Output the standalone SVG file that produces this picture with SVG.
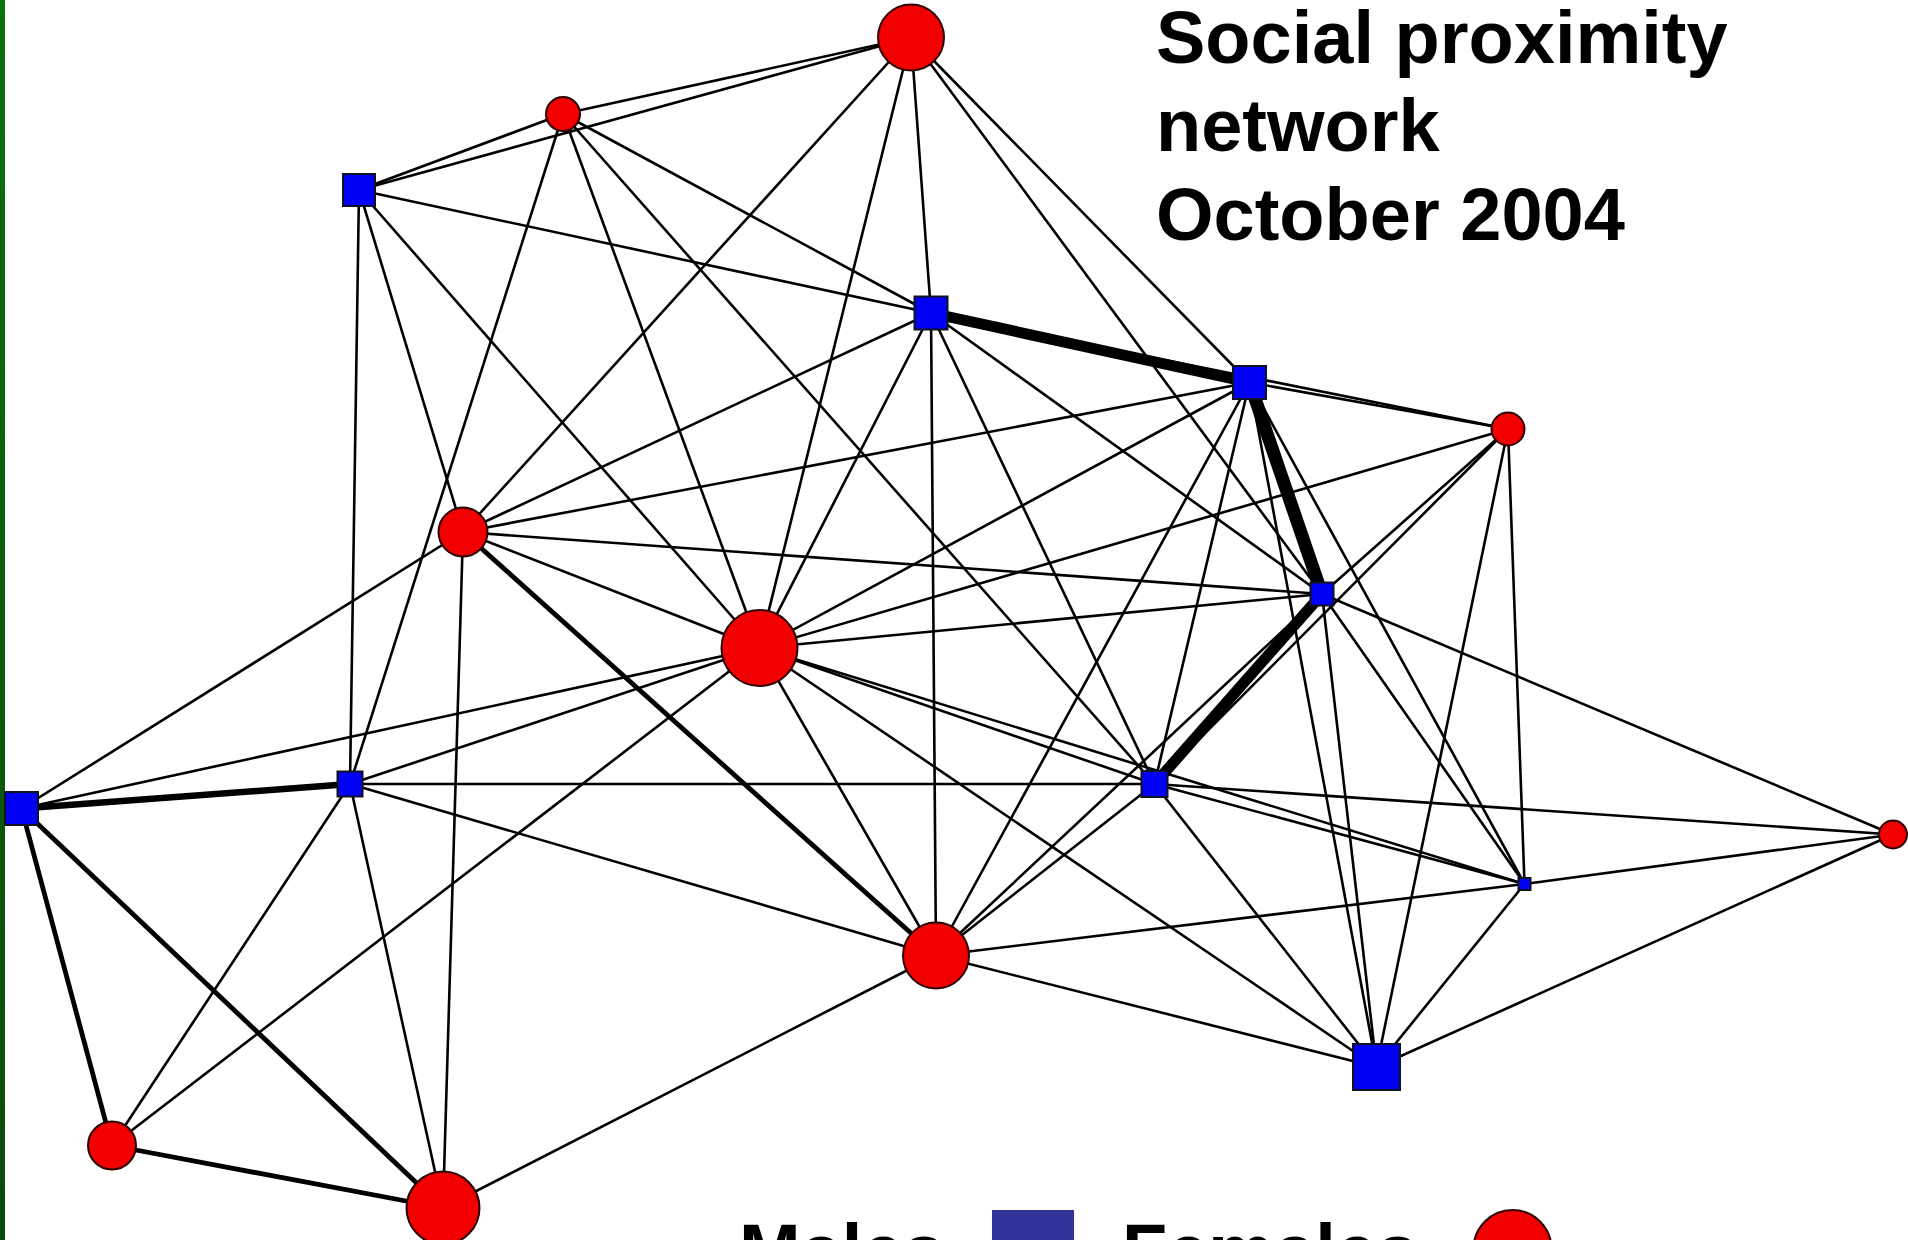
<svg xmlns="http://www.w3.org/2000/svg" width="1908" height="1240" viewBox="0 0 1908 1240">
<defs>
<linearGradient id="gb" x1="0" y1="0" x2="0" y2="1">
<stop offset="0" stop-color="#0c700c"/>
<stop offset="1" stop-color="#0a4a0a"/>
</linearGradient>
</defs>
<style>
.e{stroke:#000;stroke-width:2.6;fill:none}
.t1{stroke:#000;stroke-width:4.8;fill:none}
.t2{stroke:#000;stroke-width:6.5;fill:none}
.t3{stroke:#000;stroke-width:11;fill:none}
.t4{stroke:#000;stroke-width:13;fill:none}
.f{fill:#f20000;stroke:#2a0000;stroke-width:2}
.m{fill:#0000f5;stroke:#111122;stroke-width:2}
.txt{font-family:"Liberation Sans",Arial,sans-serif;font-weight:bold;font-size:74px;fill:#000}
</style>
<rect width="1908" height="1240" fill="#fff"/>
<rect x="0" y="0" width="5" height="1240" fill="url(#gb)"/>
<g id="edges">
<line class="e" x1="911" y1="37.5" x2="563" y2="114"/>
<line class="e" x1="911" y1="37.5" x2="359" y2="190"/>
<line class="e" x1="911" y1="37.5" x2="931" y2="313"/>
<line class="e" x1="911" y1="37.5" x2="1249.5" y2="382.5"/>
<line class="e" x1="911" y1="37.5" x2="463" y2="532"/>
<line class="e" x1="911" y1="37.5" x2="1322" y2="594"/>
<line class="e" x1="911" y1="37.5" x2="759.5" y2="648"/>
<line class="e" x1="563" y1="114" x2="359" y2="190"/>
<line class="e" x1="563" y1="114" x2="931" y2="313"/>
<line class="e" x1="563" y1="114" x2="759.5" y2="648"/>
<line class="e" x1="563" y1="114" x2="350" y2="784"/>
<line class="e" x1="563" y1="114" x2="1154.5" y2="784"/>
<line class="e" x1="359" y1="190" x2="931" y2="313"/>
<line class="e" x1="359" y1="190" x2="463" y2="532"/>
<line class="e" x1="359" y1="190" x2="759.5" y2="648"/>
<line class="e" x1="359" y1="190" x2="350" y2="784"/>
<line class="e" x1="931" y1="313" x2="1508" y2="429"/>
<line class="e" x1="931" y1="313" x2="463" y2="532"/>
<line class="e" x1="931" y1="313" x2="1322" y2="594"/>
<line class="e" x1="931" y1="313" x2="759.5" y2="648"/>
<line class="e" x1="931" y1="313" x2="1154.5" y2="784"/>
<line class="e" x1="931" y1="313" x2="936" y2="955.5"/>
<line class="e" x1="1249.5" y1="382.5" x2="1508" y2="429"/>
<line class="e" x1="1249.5" y1="382.5" x2="463" y2="532"/>
<line class="e" x1="1249.5" y1="382.5" x2="759.5" y2="648"/>
<line class="e" x1="1249.5" y1="382.5" x2="1154.5" y2="784"/>
<line class="e" x1="1249.5" y1="382.5" x2="1524.5" y2="884"/>
<line class="e" x1="1249.5" y1="382.5" x2="936" y2="955.5"/>
<line class="e" x1="1249.5" y1="382.5" x2="1376.5" y2="1067"/>
<line class="e" x1="1508" y1="429" x2="1322" y2="594"/>
<line class="e" x1="1508" y1="429" x2="759.5" y2="648"/>
<line class="e" x1="1508" y1="429" x2="1154.5" y2="784"/>
<line class="e" x1="1508" y1="429" x2="1524.5" y2="884"/>
<line class="e" x1="1508" y1="429" x2="1376.5" y2="1067"/>
<line class="e" x1="463" y1="532" x2="1322" y2="594"/>
<line class="e" x1="463" y1="532" x2="759.5" y2="648"/>
<line class="e" x1="463" y1="532" x2="21.5" y2="808.5"/>
<line class="e" x1="463" y1="532" x2="443" y2="1208"/>
<line class="e" x1="1322" y1="594" x2="759.5" y2="648"/>
<line class="e" x1="1322" y1="594" x2="1893" y2="834.5"/>
<line class="e" x1="1322" y1="594" x2="1524.5" y2="884"/>
<line class="e" x1="1322" y1="594" x2="936" y2="955.5"/>
<line class="e" x1="1322" y1="594" x2="1376.5" y2="1067"/>
<line class="e" x1="759.5" y1="648" x2="350" y2="784"/>
<line class="e" x1="759.5" y1="648" x2="1154.5" y2="784"/>
<line class="e" x1="759.5" y1="648" x2="21.5" y2="808.5"/>
<line class="e" x1="759.5" y1="648" x2="1524.5" y2="884"/>
<line class="e" x1="759.5" y1="648" x2="936" y2="955.5"/>
<line class="e" x1="759.5" y1="648" x2="1376.5" y2="1067"/>
<line class="e" x1="759.5" y1="648" x2="112" y2="1145.5"/>
<line class="e" x1="350" y1="784" x2="1154.5" y2="784"/>
<line class="e" x1="350" y1="784" x2="936" y2="955.5"/>
<line class="e" x1="350" y1="784" x2="112" y2="1145.5"/>
<line class="e" x1="350" y1="784" x2="443" y2="1208"/>
<line class="e" x1="1154.5" y1="784" x2="1893" y2="834.5"/>
<line class="e" x1="1154.5" y1="784" x2="1524.5" y2="884"/>
<line class="e" x1="1154.5" y1="784" x2="936" y2="955.5"/>
<line class="e" x1="1154.5" y1="784" x2="1376.5" y2="1067"/>
<line class="e" x1="1893" y1="834.5" x2="1524.5" y2="884"/>
<line class="e" x1="1893" y1="834.5" x2="1376.5" y2="1067"/>
<line class="e" x1="1524.5" y1="884" x2="936" y2="955.5"/>
<line class="e" x1="1524.5" y1="884" x2="1376.5" y2="1067"/>
<line class="e" x1="936" y1="955.5" x2="1376.5" y2="1067"/>
<line class="e" x1="936" y1="955.5" x2="443" y2="1208"/>
<line class="t1" x1="463" y1="532" x2="936" y2="955.5"/>
<line class="t1" x1="21.5" y1="808.5" x2="112" y2="1145.5"/>
<line class="t1" x1="21.5" y1="808.5" x2="443" y2="1208"/>
<line class="t1" x1="112" y1="1145.5" x2="443" y2="1208"/>
<line class="t2" x1="21.5" y1="808.5" x2="350" y2="784"/>
<line class="t3" x1="931" y1="313" x2="1249.5" y2="382.5"/>
<line class="t4" x1="1249.5" y1="382.5" x2="1322" y2="594"/>
<line class="t3" x1="1322" y1="594" x2="1154.5" y2="784"/>
</g>
<g id="nodeA"><circle class="f" cx="911" cy="37.5" r="33"/></g>
<g id="nodeB"><circle class="f" cx="563" cy="114" r="17"/></g>
<g id="nodeC"><rect class="m" x="343" y="174" width="32" height="32"/></g>
<g id="nodeD"><rect class="m" x="914.5" y="296.5" width="33" height="33"/></g>
<g id="nodeE"><rect class="m" x="1233" y="366" width="33" height="33"/></g>
<g id="nodeF"><circle class="f" cx="1508" cy="429" r="16.5"/></g>
<g id="nodeG"><circle class="f" cx="463" cy="532" r="24.5"/></g>
<g id="nodeH"><rect class="m" x="1310.5" y="582.5" width="23" height="23"/></g>
<g id="nodeI"><circle class="f" cx="759.5" cy="648" r="38"/></g>
<g id="nodeJ"><rect class="m" x="337.5" y="771.5" width="25" height="25"/></g>
<g id="nodeK"><rect class="m" x="1141.5" y="771" width="26" height="26"/></g>
<g id="nodeL"><rect class="m" x="5" y="792" width="33" height="33"/></g>
<g id="nodeM"><circle class="f" cx="1893" cy="834.5" r="14"/></g>
<g id="nodeN"><rect class="m" x="1518.5" y="878" width="12" height="12"/></g>
<g id="nodeO"><circle class="f" cx="936" cy="955.5" r="33"/></g>
<g id="nodeP"><rect class="m" x="1353" y="1044" width="47" height="46"/></g>
<g id="nodeQ"><circle class="f" cx="112" cy="1145.5" r="24"/></g>
<g id="nodeR"><circle class="f" cx="443" cy="1208" r="36.5"/></g>
<g id="title">
<text class="txt" x="1156" y="63">Social proximity</text>
<text class="txt" x="1156" y="151">network</text>
<text class="txt" x="1156" y="240">October 2004</text>
</g>
<g id="legend">
<text class="txt" x="739" y="1276">Males</text>
<rect x="992" y="1210" width="82" height="80" fill="#333399"/>
<text class="txt" x="1122" y="1276">Females</text>
<circle class="f" cx="1512.5" cy="1249" r="39"/>
</g>
</svg>
